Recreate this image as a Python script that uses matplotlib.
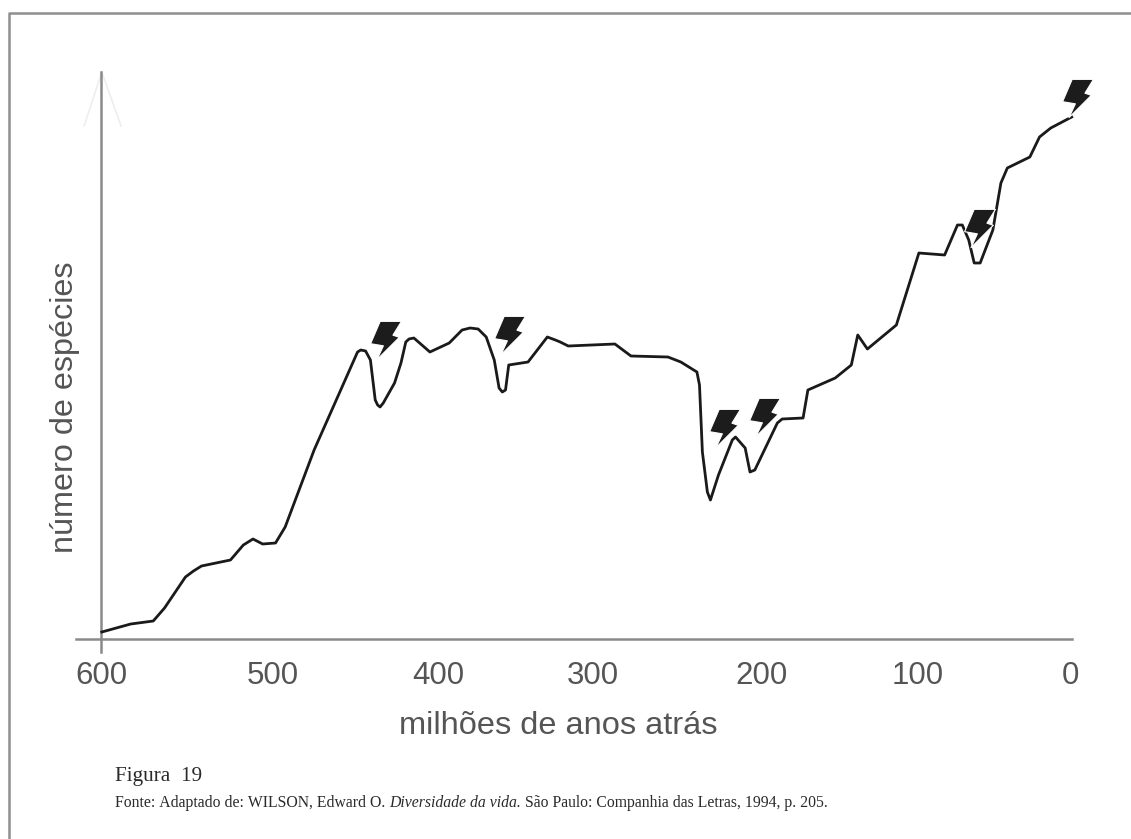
#!/usr/bin/env python3
import matplotlib
matplotlib.use('Agg')
import matplotlib.pyplot as plt
from matplotlib.lines import Line2D
from matplotlib.path import Path

# milhoes de anos atras / numero de especies (unidade arbitraria)
idade = [602, 584, 570, 563, 550, 545, 540, 522, 514, 508, 502, 494, 488, 470, 443,
	441, 438, 435, 432, 430.5, 429, 427, 420, 416, 413, 411, 408, 398, 386, 378,
	373, 368, 363, 358, 355, 353, 351, 349, 337, 325, 320, 317, 312, 283, 273, 250,
	242, 232, 230.4, 228.6, 225.5, 223.6, 218.6, 210, 208, 202, 199, 196, 182, 179,
	166, 163, 146, 136, 132, 126, 108, 94, 78, 70, 67, 63, 59.6, 55.9, 48, 43, 39,
	25, 19, 12, -1]
especies = [7, 15, 18, 31, 62, 68, 73, 79, 94, 100, 95, 96, 112, 189, 287,
	289, 288, 279, 239, 234, 232, 236, 256, 276, 297, 300, 301, 287, 296, 309,
	311, 310, 302, 279, 251, 247, 249, 274, 277, 302, 299, 297, 293, 295, 283, 282,
	277, 267, 254, 187, 147, 139, 164, 199, 202, 191, 167, 169, 216, 220,
	221, 249, 261, 274, 304, 290, 314, 386, 384, 414, 414, 399, 376, 376, 409, 456, 471,
	482, 502, 511, 522]

# raios (extincoes)
raio_idade = [426, 349, 215, 190, 56.5, -4.5]
raio_especies = [299, 304, 211, 222, 411, 541]

tick_pos = [602.5, 495.6, 392.5, 296.9, 191.9, 95, 0]
tick_labels = ['600', '500', '400', '300', '200', '100', '0']

W, H = 1131, 839
plt.rcParams['font.family'] = 'Liberation Sans'
fig = plt.figure(figsize=(W/100, H/100), dpi=100)

ax = fig.add_axes([101/W, (H-639)/H, 971/W, 567/H])
ax.set_xlim(601.9, -1.2)
ax.set_ylim(0, 567)
ax.patch.set_alpha(0)
ax.set_yticks([])
ax.set_xticks(tick_pos)
ax.set_xticklabels(tick_labels, fontsize=22.5, color='#555555')
ax.tick_params(axis='x', length=0, pad=16)

for s in ['top', 'right']:
	ax.spines[s].set_visible(False)
for s in ['left', 'bottom']:
	ax.spines[s].set_color('#8a8a8a')
	ax.spines[s].set_linewidth(1.8)
ax.spines['bottom'].set_bounds(618, -1.2)
ax.spines['left'].set_bounds(-13, 567)

ax.plot(idade, especies, color='#1a1a1a', lw=2.0, solid_joinstyle='round', clip_on=False, zorder=3)

# seta quase apagada no topo do eixo
ax.plot([613, 602, 590], [513, 567, 513], color='#eeeeee', lw=1.2, clip_on=False, zorder=0)

raio = Path([(-5, 18), (15, 18), (7, 5), (13, 3), (-8, -18), (-2, -5), (-14, -3), (-5, 18)], closed=True)
ax.scatter(raio_idade, raio_especies, marker=raio, s=760, color='#1c1c1c',
	edgecolors='white', linewidths=0.8, clip_on=False, zorder=4)

fig.text(65/W, 1-407/H, 'número de espécies', rotation=90, ha='center', va='center', fontsize=23.3, color='#555555')
fig.text(558/W, 1-726/H, 'milhões de anos atrás', ha='center', va='center', fontsize=23.4, color='#555555')

# moldura aberta embaixo e a direita
fig.add_artist(Line2D([9/W, 9/W, 1], [0, 1-13/H, 1-13/H], color='#8f8f8f', lw=1.8))

fig.text(115/W, 1-777/H, 'Figura  19', family='Liberation Serif', fontsize=15.3, color='#2a2a2a', ha='left', va='center')

y = 1-803/H
x = 115
rend = fig.canvas.get_renderer()
for txt, st in [('Fonte: Adaptado de: WILSON, Edward O. ', 'normal'), ('Diversidade da vida.', 'italic'),
		(' São Paulo: Companhia das Letras, 1994, p. 205.', 'normal')]:
	t = fig.text(x/W, y, txt.replace(' ', '\u00a0'), family='Liberation Serif', style=st, fontsize=11.3,
		color='#2a2a2a', ha='left', va='center')
	x = t.get_window_extent(rend).x1

fig.savefig('out.png', dpi=100)
